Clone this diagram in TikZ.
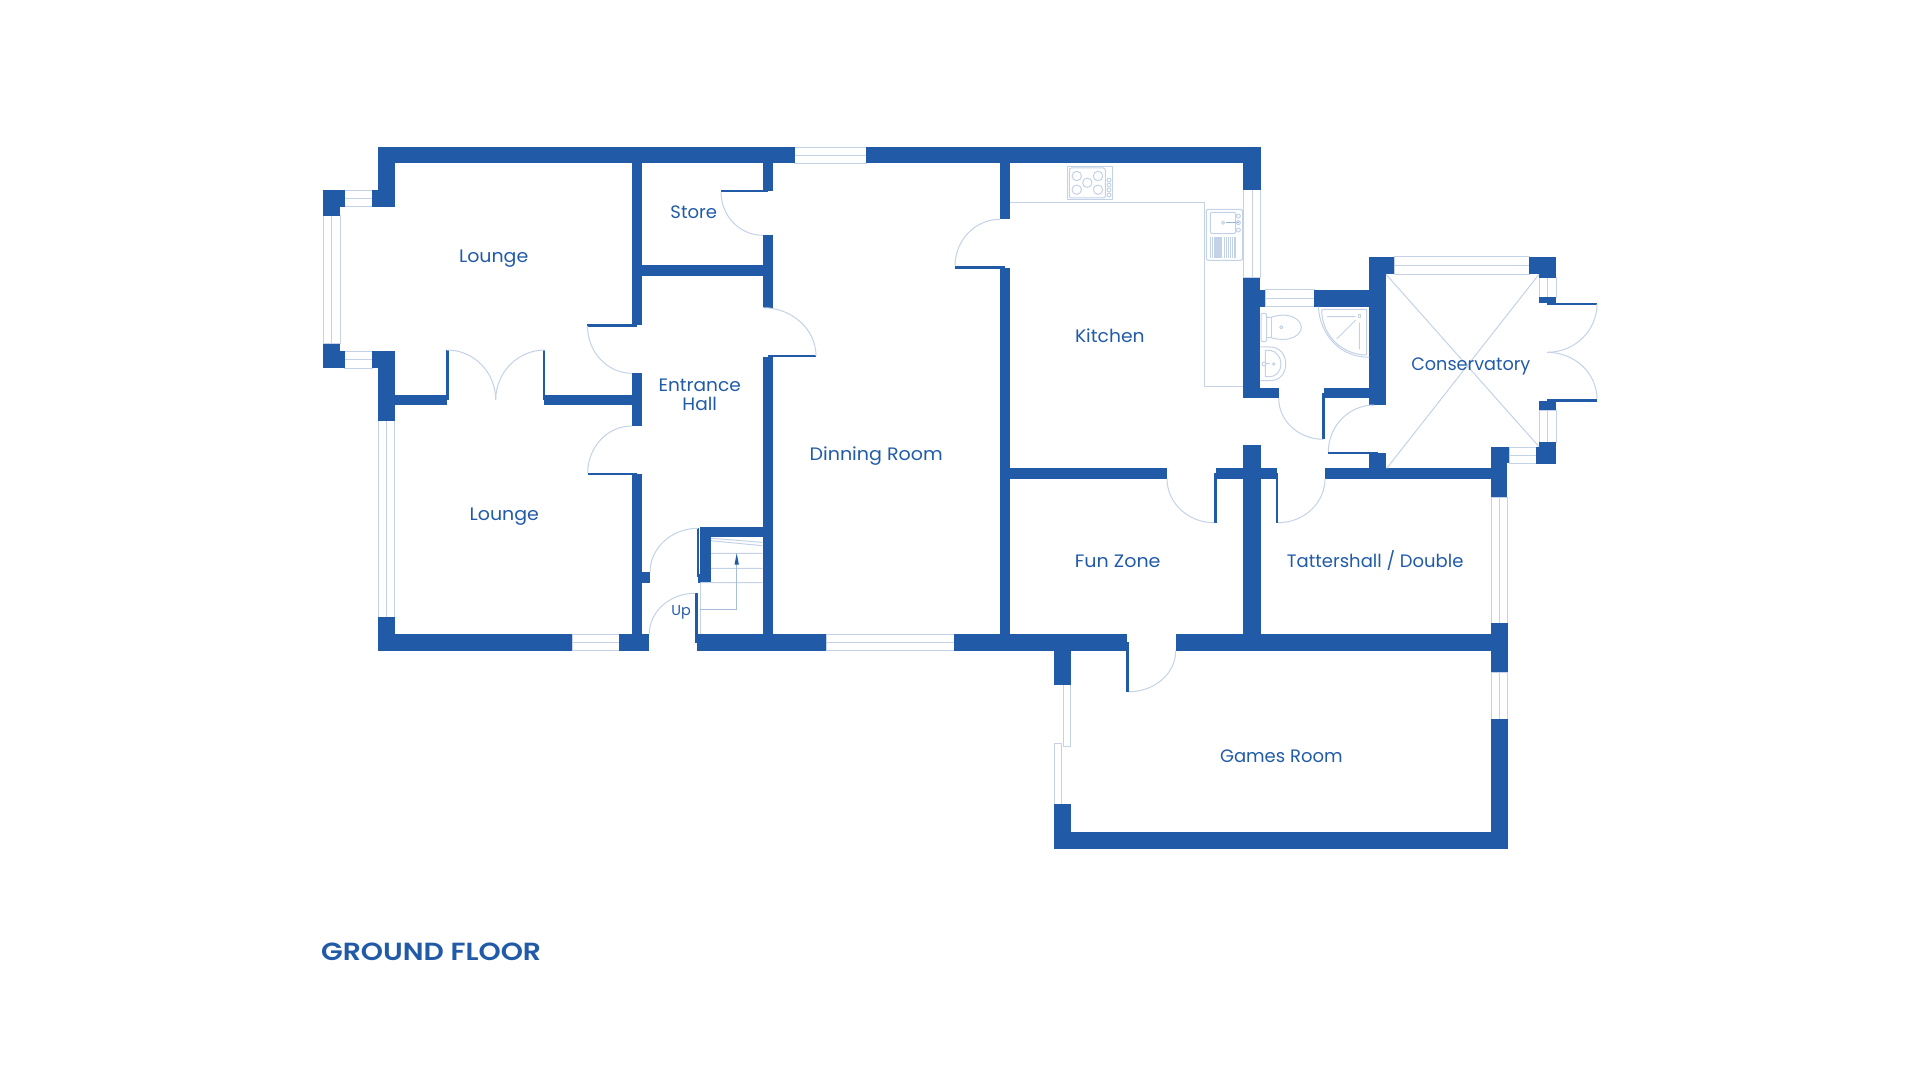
\documentclass[tikz,border=0pt]{standalone}
\usepackage{fontspec}
\setmainfont{Poppins}
\newfontfamily\titlefont{Poppins}[UprightFont=* SemiBold]
\usetikzlibrary{calc}
\definecolor{wallblue}{HTML}{215BA8}
\definecolor{fixline}{HTML}{C3D2E7}
\tikzset{
  x=0.5pt,y=-0.5pt,
  fine/.style={draw=fixline,line width=0.5pt,line join=round},
  label/.style={anchor=base,text=wallblue,font=\fontsize{9}{9.85}\selectfont,inner sep=0pt,align=center},
}
\newcommand{\qarc}[6]{\draw[fine] (#1,#2) .. controls ($(#1,#2)!0.5523!(#3,#4)$) and ($(#5,#6)!0.5523!(#3,#4)$) .. (#5,#6);}
\newcommand{\sx}[2]{\scalebox{#1}[1]{#2}}
\begin{document}
\begin{tikzpicture}
\useasboundingbox (0,0) rectangle (1920,1080);
% window frames: horizontal, two-pane
\foreach \a/\b/\c/\d in {794.5/147.3/866/163.3, 344.7/190.3/372.3/206.7, 344.7/351.3/372.3/368.3, 572/634/619/650.7, 826/634/954/650.7, 1265/290/1314.3/306.7, 1394.3/257/1529.3/274.3, 1509.3/447/1536.3/463.3}
  {\draw[fine] (\a,\b) rectangle (\c,\d) (\a,{(\b+\d)/2}) -- (\c,{(\b+\d)/2});}
% window frames: vertical, two-pane
\foreach \a/\b/\c/\d in {323/215.7/340/344, 378/420.7/394.7/617.3, 1243.3/189.7/1260.7/278, 1491/497.3/1507.7/623.3, 1491/672.3/1507.7/719.3, 1539.3/278/1556/297.3, 1539.3/410.3/1556/442}
  {\draw[fine] (\a,\b) rectangle (\c,\d) ({(\a+\c)/2},\b) -- ({(\a+\c)/2},\d);}
% single-pane glazing
\draw[fine] (1063.3,684.7) rectangle (1070.7,746.7);
\draw[fine] (1054.3,743.3) rectangle (1061.7,804.3);
% walls
\foreach \a/\b/\c/\d in {
 378/147.3/794.5/163.3, 866/147.3/1260.7/163.3,
 378/147.3/394.7/206.7, 372.3/190.3/394.7/206.7,
 323/190.3/344.7/206.7, 323/190.3/340/215.7,
 323/344/340/368.3, 323/351.3/344.7/368.3,
 372.3/351.3/394.7/368.3, 378/351.3/394.7/420.7,
 394.7/395/447/405, 544.3/395/631.7/405,
 631.7/163.3/641.7/324.7, 631.7/373.3/641.7/426, 631.7/474/641.7/634,
 641.7/265.3/762.7/275.7,
 762.7/163.3/772.7/191.3, 762.7/235.3/772.7/307.7, 762.7/356.7/772.7/634,
 378/634/572/650.7, 378/617.3/394.7/650.7,
 619/634/648.7/650.7, 641.7/572.3/650/582.7,
 700.3/527/763/537, 700.3/527/711/582.7, 698.3/574/711/582.7,
 697.3/634/826/650.7, 954/634/1127/650.7, 1175.7/634/1507.7/650.7,
 1054.3/650/1070.7/684.7,
 1054.3/804.3/1070.7/848.7, 1054.3/832.3/1507.7/848.7,
 1491/719.3/1507.7/848.7, 1491/623.3/1507.7/672.3,
 1491/447/1509.3/463.3, 1491/447/1507.4/497.3,
 1000/468.3/1167/478.7, 1000/163.3/1010/219.3, 1000/268/1010/634,
 1243.3/445.3/1260.7/634, 1215.7/468.3/1276.7/478.7,
 1325/468.3/1491/478.7, 1369.3/453.3/1386/468.3,
 1369.3/257/1386/405, 1369.3/257/1394.3/274.3,
 1529.3/257/1556/274.3, 1539.3/257/1556/278,
 1539.3/297.3/1556/303.3, 1539.3/401/1556/410.3,
 1536.3/447.3/1556/463.7, 1539.3/442/1556/463.7,
 1243.3/147.3/1260.7/189.7,
 1243.3/278/1260.3/398.3, 1243.3/290/1265/306.7,
 1314.3/290/1369.3/306.7,
 1243.3/388/1278.7/398.3, 1324/388/1369.3/398.3}
 {\fill[wallblue] (\a,\b) rectangle (\c,\d);}
% door leaves
\foreach \a/\b/\c/\d in {
 446/350/449/400, 543/350/545/400,
 587.3/324/636.7/326.7, 587.7/472.7/636.7/475,
 721/190/767.7/192, 767.7/355/816/357,
 697/528.3/699/576.7, 695/593.3/697.7/642.7,
 955/266/1005/268.7, 1126.3/641.7/1129/691.7,
 1214/473/1216.7/522.7, 1276/473/1278/522.7,
 1322.3/392.7/1325/439.3, 1328.3/452/1377.7/454,
 1547/302.7/1597/304.7, 1547/399.3/1597/401.7}
 {\fill[wallblue] (\a,\b) rectangle (\c,\d);}
% door swings
\qarc{447}{350}{495.7}{350}{495.7}{400}
\qarc{545}{350}{495.7}{350}{495.7}{400}
\qarc{587.5}{326}{587.5}{373.3}{631.7}{373.3}
\qarc{631.7}{426}{587.7}{426}{587.7}{473}
\qarc{721}{192}{721}{235.3}{762.7}{235.3}
\qarc{762.7}{307.7}{816}{307.7}{816}{356}
\qarc{650}{572.3}{650}{528.3}{698}{528.3}
\qarc{649.3}{634}{649.3}{593.3}{695}{593.3}
\qarc{1000}{219.3}{955}{219.3}{955}{266}
\qarc{1167}{478.7}{1167}{522.7}{1214}{522.7}
\qarc{1278}{522.7}{1325}{522.7}{1325}{478.7}
\qarc{1129}{691.7}{1175.7}{691.7}{1175.7}{650.7}
\qarc{1278.7}{398.3}{1278.7}{439.3}{1323.3}{439.3}
\qarc{1328.3}{452}{1328.3}{405}{1374.3}{405}
\qarc{1597}{304}{1597}{352.3}{1547.3}{352.3}
\qarc{1597}{399.3}{1597}{352.3}{1547.3}{352.3}
% conservatory roof
\draw[fine] (1386,274.3) -- (1539,446.7) (1539,274.3) -- (1386.7,468.3);
% worktop
\draw[fine] (1010,202.3) -- (1204.3,202.3) -- (1204.3,386.3) -- (1243.3,386.3);
% hob
\draw[fine] (1067.3,166.3) rectangle (1112.7,199.7);
\draw[fine,rounded corners=1pt] (1069.3,168) rectangle (1105.3,198);
\foreach \a/\b in {1076.7/176, 1098/176, 1087.3/182.7, 1076.7/189.7, 1098/189.7}
  {\draw[fine] (\a,\b) circle[radius=2.35pt];}
\foreach \b in {180,185,190,195}
  {\draw[fine] (1109,\b) circle[radius=1pt];}
% sink
\draw[fine,rounded corners=1pt] (1206.3,209.3) rectangle (1242.7,260.3);
\draw[fine,rounded corners=1pt] (1210.3,212.3) rectangle (1235.7,233.7);
\draw[draw=wallblue!45!white,line width=0.7pt] (1226,222.7) -- (1239.3,222.7);
\foreach \b in {216,222.7,230} {\draw[fine] (1238.3,\b) circle[radius=1pt];}
\draw[fine] (1223,222.7) circle[radius=0.8pt];
\fill[fixline] (1214,237.3) rectangle (1222,258);
\foreach \a in {1210.3,1212,1224,1226,1228,1230,1232,1234,1235.7}
  {\draw[fine,line width=0.4pt] (\a,237.3) -- (\a,258);}
% toilet
\draw[fine,rounded corners=1pt] (1261,313.3) rectangle (1266.7,341.7);
\draw[fine] (1266.7,317.3) -- (1271,317.3) .. controls (1290,311) and (1301.3,320) .. (1301.3,327.3) .. controls (1301.3,335) and (1290,343) .. (1271,337.7) -- (1266.7,337.7);
\draw[fine] (1271,317.3) -- (1271,337.7);
\draw[fine] (1281.3,327.3) circle[radius=0.8pt];
% wash basin
\draw[fine] (1260.3,347) -- (1270,347) .. controls (1280,347) and (1285.7,355) .. (1285.7,364) .. controls (1285.7,373) and (1280,380.7) .. (1270,380.7) -- (1260.3,380.7);
\draw[fine] (1265.3,350.3) -- (1270,350.3) .. controls (1276,351) and (1281,357) .. (1281,364) .. controls (1281,371) and (1276,376.7) .. (1270,376.7) -- (1265.3,376.7) -- cycle;
\draw[fine] (1264,364) circle[radius=1pt] (1273.7,364) circle[radius=0.6pt];
\draw[fine] (1265,364) -- (1270,364);
% shower
\draw[fine] (1318.3,306.7) .. controls (1320,335) and (1340,357.3) .. (1369.3,357.3);
\draw[fine] (1321.7,312) .. controls (1321.7,309.3) .. (1324,309.3) -- (1364,309.3) .. controls (1366.7,309.3) .. (1366.7,312) -- (1366.7,352) .. controls (1366.7,355) .. (1364,355) .. controls (1340,353) and (1323,335) .. (1321.7,312);
\draw[fine] (1327,316.7) -- (1355.7,316.7) (1359.3,322.7) -- (1359.3,349.3) (1355.7,320) -- (1336.7,339);
\draw[fine] (1358,315) rectangle (1360.7,317.7);
% stairs
\draw[fine] (711,538.3) -- (762.3,542.3) (711,540.7) -- (762.3,545.7) (711,553.3) -- (762.3,553.3) (711,568.3) -- (762.3,568.3) (700.3,582.7) -- (762.3,582.7);
\draw[fine] (700.3,582.7) -- (700.3,634);
\draw[draw=wallblue!40!white,line width=0.5pt] (700.3,609.3) -- (736.7,609.3) -- (736.7,560);
\fill[wallblue] (736.7,553.3) -- (738.9,564.7) -- (734.5,564.7) -- cycle;
% labels
\node[label] (lounge1) at (493.7,262.7) {\sx{1.055}{Lounge}};
\node[label] (store) at (693.7,218.7) {Store};
\node[label] (entrance) at (699.7,410.7) {\sx{1.03}{Entrance}\\\sx{1.03}{Hall}};
\node[label] (lounge2) at (504.3,520) {\sx{1.055}{Lounge}};
\node[label] (dinning) at (876.2,460) {\sx{1.06}{Dinning Room}};
\node[label] (kitchen) at (1109.8,342.7) {\sx{1.04}{Kitchen}};
\node[label] (conserv) at (1470.8,371) {\sx{0.98}{Conservatory}};
\node[label] (funzone) at (1117.7,567) {\sx{1.06}{Fun Zone}};
\node[label] (tatt) at (1375.2,567) {Tattershall / Double};
\node[label] (games) at (1281.3,762) {Games Room};
\node[label,font=\fontsize{7.2}{8}\selectfont] (up) at (681,615) {Up};
\node[anchor=base west,text=wallblue,inner sep=0pt,font=\fontsize{12.4}{14}\selectfont\titlefont] (title) at (320.7,960.7) {\sx{1.14}{GROUND FLOOR}};
\end{tikzpicture}
\end{document}
